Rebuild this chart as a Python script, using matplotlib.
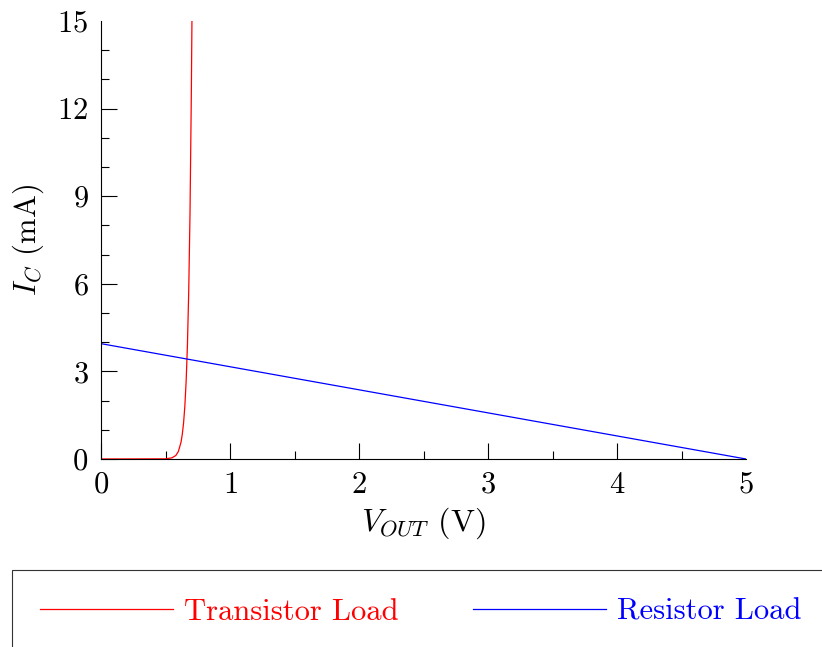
import matplotlib
matplotlib.use("Agg")
import matplotlib.pyplot as plt
from matplotlib.patches import Rectangle
from matplotlib.ticker import FixedLocator

plt.rcParams['font.family'] = 'serif'
plt.rcParams['font.serif'] = ['cmr10', 'DejaVu Serif']
plt.rcParams['mathtext.fontset'] = 'cm'
plt.rcParams['axes.unicode_minus'] = False
plt.rcParams['axes.formatter.use_mathtext'] = True

# Transistor load (V_OUT in V, I_C in mA)
v_transistor = [0.0, 0.50, 0.55, 0.58, 0.60, 0.62, 0.63, 0.64, 0.65, 0.66, 0.67, 0.68, 0.69, 0.70, 0.705]
i_transistor = [0.0, 0.006, 0.04, 0.12, 0.26, 0.57, 0.84, 1.23, 1.81, 2.66, 3.90, 5.73, 8.42, 12.4, 15.0]

# Resistor load line
v_resistor = [0.0, 5.0]
i_resistor = [3.95, 0.0]

x_ticks = [0, 1, 2, 3, 4, 5]
y_ticks = [0, 3, 6, 9, 12, 15]

W, H = 822, 647
fig = plt.figure(figsize=(W / 100, H / 100), dpi=100)
ax = fig.add_axes([101 / W, 1 - 459 / H, (746 - 101) / W, (459 - 21) / H])

ax.plot(v_transistor, i_transistor, color='#ff0000', lw=0.9, label='Transistor Load')
ax.plot(v_resistor, i_resistor, color='#0000ff', lw=0.9, label='Resistor Load')

ax.set_xlim(0, 5)
ax.set_ylim(0, 15)
for s in ['top', 'right']:
    ax.spines[s].set_visible(False)
for s in ['left', 'bottom']:
    ax.spines[s].set_linewidth(0.8)

ax.set_xticks(x_ticks)
ax.set_yticks(y_ticks)
ax.xaxis.set_minor_locator(FixedLocator([0.5, 1.5, 2.5, 3.5, 4.5]))
ax.yaxis.set_minor_locator(FixedLocator([1, 2, 4, 5, 7, 8, 10, 11, 13, 14]))
ax.tick_params(which='major', direction='in', length=11.5, width=0.8, labelsize=22)
ax.tick_params(which='minor', direction='in', length=5.8, width=0.8)
ax.tick_params(axis='x', which='major', pad=9)
ax.tick_params(axis='y', which='major', pad=9)
ax.xaxis.get_major_ticks()[-1].tick1line.set_visible(False)
ax.yaxis.get_major_ticks()[-1].tick1line.set_visible(False)

ax.set_xlabel(r'$V_{OUT}$ (V)', fontsize=23, labelpad=5)
ax.set_ylabel(r'$I_C$ (mA)', fontsize=22, labelpad=8)

# Legend frame (cut off by the figure edges)
fig.patches.append(Rectangle((12 / W, -0.2), 1.0, (H - 570) / H + 0.2,
                             transform=fig.transFigure, fill=False,
                             ec='#333333', lw=0.8))
handles, labels = ax.get_legend_handles_labels()
fig.legend(handles, labels, loc='center left', bbox_to_anchor=(40 / W, 1 - 612 / H),
           ncol=2, frameon=False, fontsize=22, handlelength=4.35, handletextpad=0.36,
           columnspacing=2.45, borderpad=0, borderaxespad=0, labelcolor='linecolor')

fig.savefig('out.png', dpi=100)
